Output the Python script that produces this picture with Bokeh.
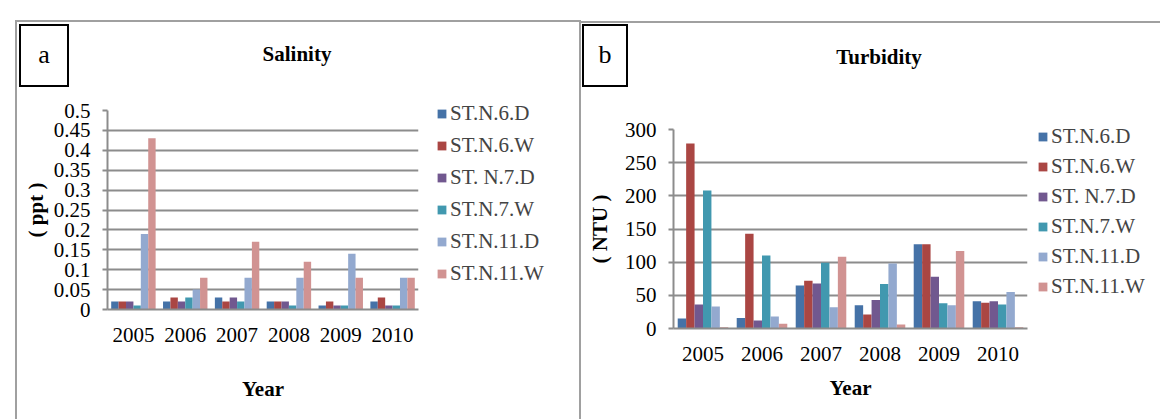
from bokeh.plotting import figure
from bokeh.models import (FactorRange, Range1d, FixedTicker, CustomJSTickFormatter,
                          Legend, LegendItem, ColumnDataSource, Div)
from bokeh.transform import dodge
from bokeh.embed import file_html
from bokeh.resources import INLINE

years = ["2005", "2006", "2007", "2008", "2009", "2010"]
stations = ["ST.N.6.D", "ST.N.6.W", "ST. N.7.D", "ST.N.7.W", "ST.N.11.D", "ST.N.11.W"]
colors = ["#4572A7", "#AA4643", "#71588F", "#4198AF", "#93A9CF", "#D19392"]

# Salinity (ppt)
sal_6D = [0.02, 0.02, 0.03, 0.02, 0.01, 0.02]
sal_6W = [0.02, 0.03, 0.02, 0.02, 0.02, 0.03]
sal_7D = [0.02, 0.02, 0.03, 0.02, 0.01, 0.01]
sal_7W = [0.01, 0.03, 0.02, 0.01, 0.01, 0.01]
sal_11D = [0.19, 0.05, 0.08, 0.08, 0.14, 0.08]
sal_11W = [0.43, 0.08, 0.17, 0.12, 0.08, 0.08]
sal_ticks = [0, 0.05, 0.1, 0.15, 0.2, 0.25, 0.3, 0.35, 0.4, 0.45, 0.5]

# Turbidity (NTU)
tur_6D = [15, 16, 65, 35, 127, 41]
tur_6W = [279, 143, 72, 21, 127, 39]
tur_7D = [36, 12, 68, 43, 78, 41]
tur_7W = [208, 110, 99, 67, 38, 36]
tur_11D = [33, 18, 32, 98, 35, 55]
tur_11W = [2, 7, 108, 6, 117, 2]
tur_ticks = [0, 50, 100, 150, 200, 250, 300]

SERIF = "Liberation Serif"
GRID = "#8c8c8c"


def make_panel(width, pos_left, f_left, f_right, f_top, f_bottom, series, ymax, ticks,
               ylabel, leg_loc, leg_spacing, ylab_standoff, xlab_standoff):
    H = 419
    p = figure(frame_width=f_right - f_left, frame_height=f_bottom - f_top,
               x_range=FactorRange(*years),
               y_range=Range1d(0, ymax), output_backend="svg", toolbar_location=None,
               min_border_left=f_left, min_border_right=width - f_right,
               min_border_top=f_top, min_border_bottom=H - f_bottom,
               outline_line_color=None, background_fill_color="white",
               border_fill_color="white",
               styles={"position": "absolute", "left": f"{pos_left}px", "top": "0px"})
    p.x_range.range_padding = 0
    data = {"year": years}
    for i, s in enumerate(series):
        data[f"s{i}"] = s
    src = ColumnDataSource(data)
    items = []
    for i, (name, col) in enumerate(zip(stations, colors)):
        r = p.vbar(x=dodge("year", (i - 2.5) / 7.0, range=p.x_range), top=f"s{i}",
                   width=1 / 7.0, source=src, fill_color=col, line_color=None)
        items.append(LegendItem(label=name, renderers=[r]))

    p.yaxis.ticker = FixedTicker(ticks=ticks)
    p.yaxis.formatter = CustomJSTickFormatter(code="return String(Number(tick.toFixed(2)));")
    p.ygrid.ticker = FixedTicker(ticks=ticks)
    p.ygrid.grid_line_color = GRID
    p.ygrid.grid_line_width = 2
    p.xgrid.grid_line_color = None
    for ax in (p.xaxis[0], p.yaxis[0]):
        ax.axis_line_color = GRID
        ax.axis_line_width = 2
        ax.major_label_text_font = SERIF
        ax.major_label_text_font_size = "21px"
        ax.major_label_text_color = "black"
        ax.axis_label_text_font = SERIF
        ax.axis_label_text_font_style = "bold"
        ax.axis_label_text_font_size = "21px"
        ax.axis_label_text_color = "black"
        ax.minor_tick_line_color = None
    p.yaxis.major_tick_line_color = GRID
    p.yaxis.major_tick_line_width = 2
    p.yaxis.major_tick_out = 5
    p.yaxis.major_tick_in = 0
    p.yaxis.major_label_standoff = 12
    p.yaxis.axis_label = ylabel
    p.yaxis.axis_label_standoff = ylab_standoff
    p.xaxis.major_tick_line_color = None
    p.xaxis.major_label_standoff = 12
    p.xaxis.axis_label = "Year"
    p.xaxis.axis_label_standoff = xlab_standoff

    leg = Legend(items=items, location=leg_loc, padding=0, margin=0,
                 border_line_color=None, background_fill_alpha=0,
                 glyph_width=11, glyph_height=11, label_standoff=3,
                 label_text_font=SERIF, label_text_font_size="21px",
                 spacing=leg_spacing)
    p.add_layout(leg, "right")
    return p


def box_div(text, left, top, w, h, css):
    st = {"position": "absolute", "left": f"{left}px", "top": f"{top}px",
          "box-sizing": "border-box", "font-family": SERIF, "color": "black"}
    st.update(css)
    return Div(text=text, width=w, height=h, styles=st)


left = make_panel(576, 0, 107, 418, 110, 309,
                  [sal_6D, sal_6W, sal_7D, sal_7W, sal_11D, sal_11W], 0.5, sal_ticks,
                  "( ppt )", (18, 23), 7, 3, 32)
right = make_panel(584, 576, 97, 451, 129, 328,
                   [tur_6D, tur_6W, tur_7D, tur_7W, tur_11D, tur_11W], 300, tur_ticks,
                   "( NTU )", (10, 29), 5, 10, 12)

decor = [
    box_div("", 10, 15, 566, 430, {"border": "2px solid #a0a0a0"}),
    box_div("", 576, 16, 584, 2, {"background-color": "#a0a0a0"}),
    box_div("a", 14, 19, 50, 63, {"border": "2px solid black", "font-size": "26px",
                                  "line-height": "57px", "text-align": "center"}),
    box_div("b", 577, 19, 46, 63, {"border": "2px solid black", "font-size": "26px",
                                   "line-height": "57px", "text-align": "center"}),
    box_div("Salinity", 212, 36, 160, 26, {"font-size": "21px", "font-weight": "bold",
                                           "line-height": "26px", "text-align": "center"}),
    box_div("Turbidity", 794, 39, 160, 26, {"font-size": "21px", "font-weight": "bold",
                                            "line-height": "26px", "text-align": "center"}),
]

open("out.html", "w").write(file_html([left, right] + decor, INLINE))
